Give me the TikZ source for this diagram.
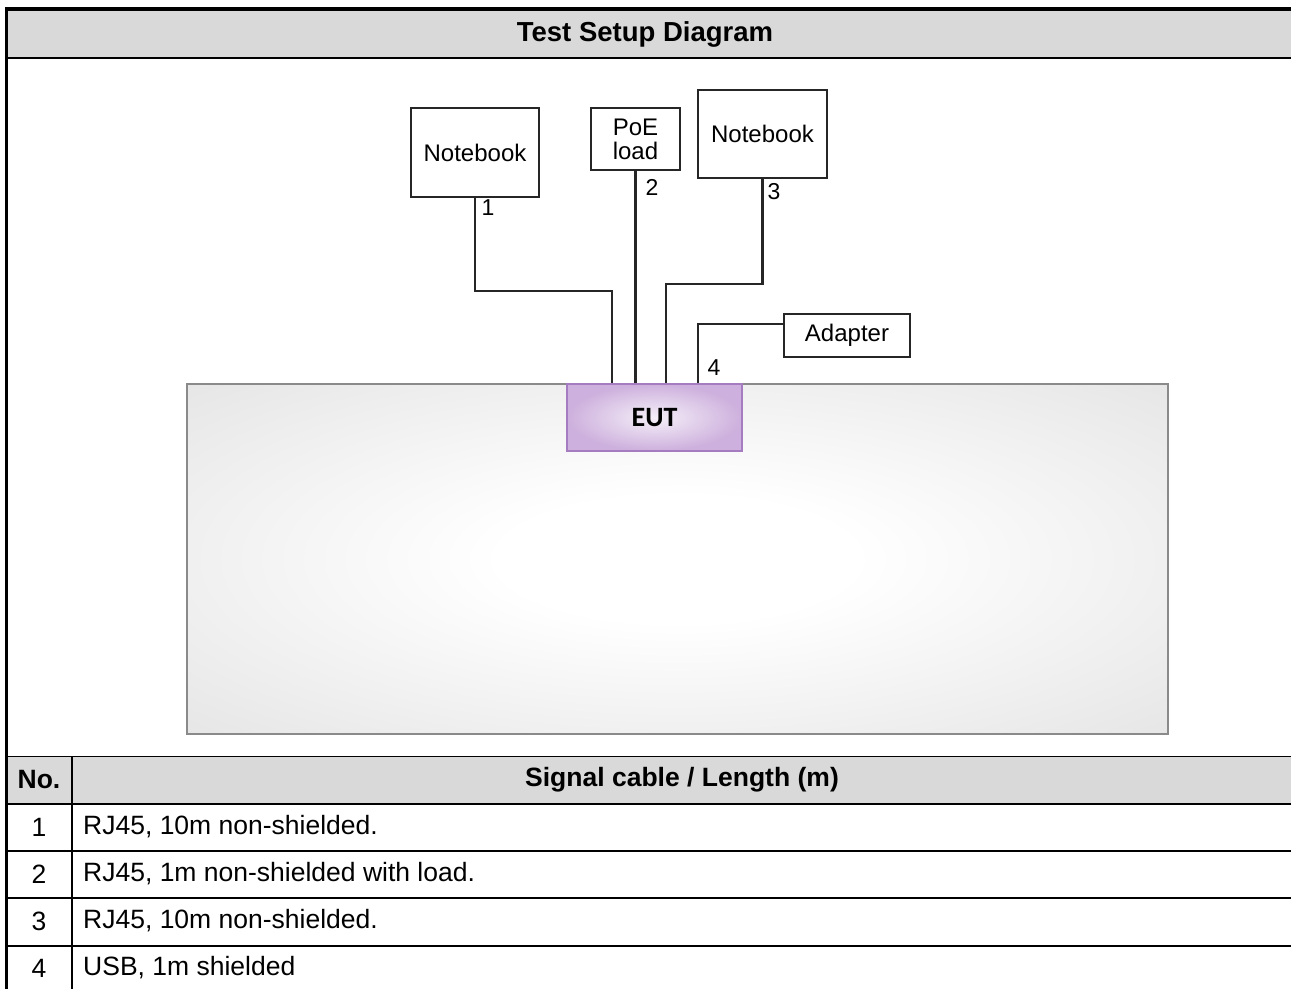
\documentclass[tikz,border=0pt]{standalone}
\usepackage{fontspec}
\setmainfont{Liberation Sans}
\newfontfamily\eutfont{Carlito}
\usepackage{tikz}
\usetikzlibrary{positioning}
\definecolor{hdrgray}{HTML}{D9D9D9}
\definecolor{benchgray}{HTML}{DCDCDC}
\definecolor{benchedge}{HTML}{8A8A8A}
\definecolor{eutedge}{HTML}{A57CC0}
\definecolor{eutin}{HTML}{F5EFF8}
\definecolor{eutout}{HTML}{CDB0DD}
\definecolor{cable}{HTML}{262626}
\pgfdeclareradialshading{benchfade}{\pgfpoint{0bp}{0bp}}{color(0bp)=(white); color(9bp)=(white); color(46bp)=(benchgray); color(72bp)=(benchgray)}

\begin{document}
\begin{tikzpicture}
[x=1pt,y=-1pt,line join=miter,
 unit/.style={draw=black!85,line width=2pt,fill=white,inner sep=0pt,font=\fontsize{24}{24}\selectfont,align=center},
 cbl/.style={draw=cable,line width=2.2pt},
 num/.style={inner sep=0pt,font=\fontsize{23}{23}\selectfont},
 cell/.style={inner sep=0pt,font=\fontsize{26.5}{26.5}\selectfont},
 head/.style={inner sep=0pt,font=\fontsize{26.5}{26.5}\selectfont\bfseries}]
\tikzstyle{bench}=[draw=benchedge,line width=1.5pt,shading=benchfade,
 minimum width=981pt,minimum height=350pt,inner sep=0pt]
\tikzstyle{eut}=[draw=eutedge,line width=1.5pt,inner color=eutin,outer color=eutout,
 minimum width=175pt,minimum height=67pt,inner sep=0pt,font=\fontsize{28}{28}\selectfont]
\useasboundingbox (0,0) rectangle (1291,989);

\fill[hdrgray] (6.5,8.8) rectangle (1291,58);
\fill[hdrgray] (6.5,756) rectangle (1291,803.5);
\draw[line width=3.5pt] (5,8.8) -- (1291,8.8);
\draw[line width=3pt] (6.5,7) -- (6.5,989);
\draw[line width=2pt] (8,58) -- (1291,58);
\draw[line width=1pt] (8,756) -- (1291,756);
\draw[line width=2pt] (8,803.5) -- (1291,803.5);
\draw[line width=2pt] (8,851) -- (1291,851);
\draw[line width=2pt] (8,898) -- (1291,898);
\draw[line width=2pt] (8,946) -- (1291,946);
\draw[line width=1.2pt] (72,756) -- (72,989);

\node[head,font=\fontsize{27.5}{27.5}\selectfont\bfseries] (title) at (645,34) {Test Setup Diagram};
\node[head] (nohead) at (39,780) {No.};
\node[head] (cblhead) at (682,780) {Signal cable / Length (m)};
\node[cell] (no1) at (39,827) {1};
\node[cell,anchor=west] (row1) at (83,827) {RJ45, 10m non-shielded.};
\node[cell] (no2) at (39,874) {2};
\node[cell,anchor=west] (row2) at (83,874) {RJ45, 1m non-shielded with load.};
\node[cell] (no3) at (39,921) {3};
\node[cell,anchor=west] (row3) at (83,921) {RJ45, 10m non-shielded.};
\node[cell] (no4) at (39,968) {4};
\node[cell,anchor=west] (row4) at (83,968) {USB, 1m shielded};

\node[bench] (bench) at (677.5,559) {};
\node[eut] (eut) at (654.5,417.5) {\eutfont\bfseries EUT};

\node[unit,minimum width=128pt,minimum height=89pt] (nb1) at (475,152.5) {Notebook};
\node[unit,minimum width=89pt,minimum height=62pt] (poe) at (635.5,139) {PoE\\load};
\node[unit,minimum width=129pt,minimum height=88pt] (nb3) at (762.5,134) {Notebook};
\node[unit,minimum width=126pt,minimum height=43pt] (adp) at (847,335.5) {Adapter};

\coordinate (p1) at ([xshift=-42.5pt]eut.north);
\coordinate (p3) at ([xshift=11.5pt]eut.north);
\coordinate (p4) at ([xshift=43.5pt]eut.north);

\draw[cbl] (nb1.south) -- ++(0,93) -| (p1);
\draw[cbl] (poe.south) -- (poe.south |- eut.north);
\draw[cbl] (nb3.south) -- ++(0,105) -| (p3);
\draw[cbl] (adp.170) -| (p4);

\node[num] (c1) at (488,208) {1};
\node[num] (c2) at (652,187) {2};
\node[num] (c3) at (774,192) {3};
\node[num] (c4) at (714,368) {4};
\end{tikzpicture}
\end{document}
